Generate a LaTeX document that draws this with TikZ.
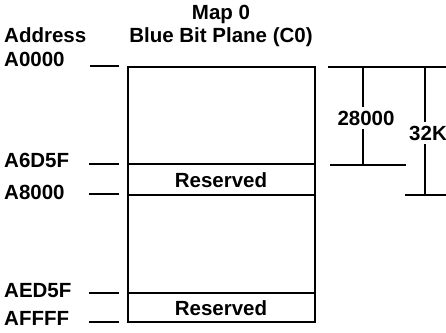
\documentclass[tikz,border=0pt]{standalone}
\usepackage{fontspec}
\setmainfont{Liberation Sans}
\tikzset{
  lbl/.style={font=\fontsize{20.5}{23}\selectfont\bfseries, inner sep=0pt},
  tick/.style={line width=1.3pt},
  wall/.style={line width=1.8pt},
  gap/.style={lbl, fill=white, inner xsep=1pt, inner ysep=4pt},
}
\begin{document}
\begin{tikzpicture}[x=1pt,y=-1pt]
	\useasboundingbox (0,0) rectangle (446,332);
	
	% headings
	\node[lbl] (map) at (221,14) {Map 0};
	\node[lbl,anchor=base] (plane) at (221,42) {Blue Bit Plane (C0)};
	\node[lbl,anchor=base west] (addr) at (4,42) {Address};
	
	% the plane
	\draw[wall] (128,67) rectangle (315,322);
	\draw[wall] (128,164) -- (315,164);
	\draw[wall] (128,195) -- (315,195);
	\draw[wall] (128,293) -- (315,293);
	\node[lbl] (res1) at (221,180) {Reserved};
	\node[lbl] (res2) at (221,308) {Reserved};
	
	% addresses
	\node[lbl,anchor=west] (a0000) at (4,59) {A0000};
	\draw[tick] (90,66) -- (119,66);
	\node[lbl,anchor=west] (a6d5f) at (4,160) {A6D5F};
	\draw[tick] (89,164) -- (119,164);
	\node[lbl,anchor=west] (a8000) at (4,192) {A8000};
	\draw[tick] (89,194) -- (119,194);
	\node[lbl,anchor=west] (aed5f) at (4,291) {AED5F};
	\draw[tick] (89,293) -- (119,293);
	\node[lbl,anchor=west] (affff) at (4,318) {AFFFF};
	\draw[tick] (89,322) -- (119,322);
	
	% sizes
	\coordinate (top) at (328,67);
	\coordinate (topend) at (446,67);
	\coordinate (midl) at (330,165);
	\coordinate (midr) at (406,165);
	\coordinate (botl) at (405,195);
	\coordinate (botr) at (446,195);
	\draw[tick] (top) -- (topend);
	\draw[tick] (midl) -- (midr);
	\draw[tick] (botl) -- (botr);
	\draw[tick] (363,67) -- (363,165);
	\draw[tick] (425,67) -- (425,195);
	\node[gap] (k28) at (366,118) {28000};
	\node[gap] (k32) at (428,133) {32K};
	
\end{tikzpicture}
\end{document}
